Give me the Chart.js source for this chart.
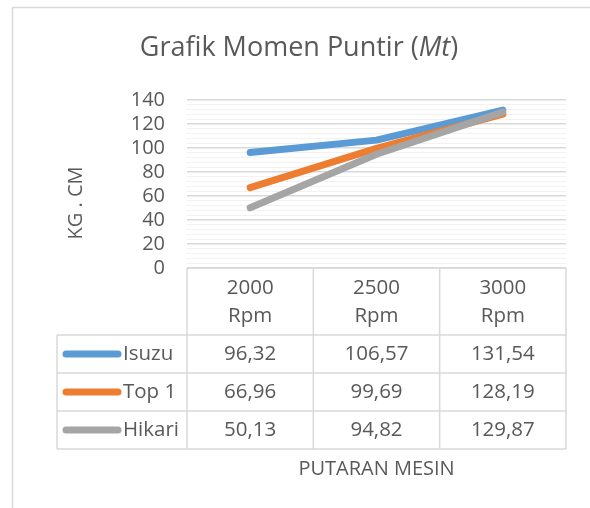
<!DOCTYPE html>
<html>
<head>
<meta charset="utf-8">
<script src="https://cdn.jsdelivr.net/npm/chart.js@4/dist/chart.umd.min.js"></script>
<style>
  body { margin: 0; background: #fff; }
  #wrap { width: 590px; height: 508px; }
</style>
</head>
<body>
<div id="wrap"><canvas id="momenChart" width="590" height="508"></canvas></div>
<script>
// data
const rpm = ["2000", "2500", "3000"];
const rpmUnit = "Rpm";
const seriesNames = ["Isuzu", "Top 1", "Hikari"];
const isuzu = [96.32, 106.57, 131.54];
const top1 = [66.96, 99.69, 128.19];
const hikari = [50.13, 94.82, 129.87];
const yTicks = [0, 20, 40, 60, 80, 100, 120, 140];

const colors = ["#5b9bd5", "#ed7d31", "#a5a5a5"];
const textColor = "#595959";
const fontFam = "'Open Sans', sans-serif";

function fmt(v) {
  return v.toFixed(2).replace(".", ",");
}

// frame, title, axis titles and data table below the plot
const tablePlugin = {
  id: "tablePlugin",
  afterDraw(chart) {
    const c = chart.ctx;
    const area = chart.chartArea;
    const xs = chart.scales.x;
    const all = [isuzu, top1, hikari];

    c.save();
    // outer frame
    c.strokeStyle = "#d9d9d9";
    c.lineWidth = 1.5;
    c.beginPath();
    c.moveTo(12.5, 508);
    c.lineTo(12.5, 7.5);
    c.lineTo(590, 7.5);
    c.stroke();

    c.fillStyle = textColor;
    c.textBaseline = "middle";

    // title
    const tf = "27px " + fontFam;
    const tfi = "italic 27px " + fontFam;
    const t1 = "Grafik Momen Puntir (";
    const t2 = "Mt";
    const t3 = ")";
    c.font = tf;
    const w1 = c.measureText(t1).width;
    const w3 = c.measureText(t3).width;
    c.font = tfi;
    const w2 = c.measureText(t2).width;
    const tx = 299 - (w1 + w2 + w3) / 2;
    c.textAlign = "left";
    c.font = tf;
    c.fillText(t1, tx, 48);
    c.font = tfi;
    c.fillText(t2, tx + w1, 48);
    c.font = tf;
    c.fillText(t3, tx + w1 + w2, 48);

    // y axis title
    c.save();
    c.translate(76, 203);
    c.rotate(-Math.PI / 2);
    c.textAlign = "center";
    c.font = "20px " + fontFam;
    c.fillText("KG . CM", 0, 0);
    c.restore();

    // table grid
    const top = area.bottom;
    const headH = 67;
    const rowH = 38;
    const legLeft = 57;
    const bottom = top + headH + rowH * all.length;
    const colW = (area.right - area.left) / rpm.length;
    c.strokeStyle = "#d9d9d9";
    c.lineWidth = 1.5;
    c.beginPath();
    for (let i = 0; i <= rpm.length; i++) {
      const x = area.left + colW * i;
      c.moveTo(x, top);
      c.lineTo(x, bottom);
    }
    c.moveTo(legLeft, top + headH);
    c.lineTo(legLeft, bottom);
    c.moveTo(area.left, top);
    c.lineTo(area.right, top);
    for (let r = 0; r <= all.length; r++) {
      const y = top + headH + rowH * r;
      c.moveTo(legLeft, y);
      c.lineTo(area.right, y);
    }
    c.stroke();

    // header
    c.textAlign = "center";
    c.font = "20.5px " + fontFam;
    rpm.forEach((r, i) => {
      const x = xs.getPixelForValue(i);
      c.fillText(r, x, top + 20);
      c.fillText(rpmUnit, x, top + 48);
    });

    // rows
    all.forEach((data, r) => {
      const y = top + headH + rowH * r + rowH / 2;
      c.strokeStyle = colors[r];
      c.lineWidth = 7;
      c.lineCap = "round";
      c.beginPath();
      c.moveTo(66, y);
      c.lineTo(118, y);
      c.stroke();
      c.textAlign = "left";
      c.fillText(seriesNames[r], 123, y);
      c.textAlign = "center";
      data.forEach((v, i) => {
        c.fillText(fmt(v), xs.getPixelForValue(i), y);
      });
    });

    // x axis title
    c.font = "20px " + fontFam;
    c.fillText("PUTARAN MESIN", (area.left + area.right) / 2, 469);
    c.restore();
  }
};

const ctx = document.getElementById("momenChart").getContext("2d");
new Chart(ctx, {
  type: "line",
  data: {
    labels: rpm,
    datasets: [
      { label: seriesNames[0], data: isuzu, borderColor: colors[0], order: 2 },
      { label: seriesNames[1], data: top1, borderColor: colors[1], order: 1 },
      { label: seriesNames[2], data: hikari, borderColor: colors[2], order: 0 },
    ],
  },
  options: {
    responsive: false,
    animation: false,
    layout: { padding: { top: 100, right: 24, bottom: 240, left: 0 } },
    elements: {
      line: { borderWidth: 7, borderCapStyle: "round", borderJoinStyle: "round", tension: 0 },
      point: { radius: 0 },
    },
    plugins: {
      legend: { display: false },
      title: { display: false },
      tooltip: { enabled: false },
    },
    scales: {
      x: { display: false, offset: true },
      y: {
        min: yTicks[0],
        max: yTicks[yTicks.length - 1],
        afterFit: (s) => { s.width = 187; },
        border: { display: false },
        grid: {
          drawTicks: false,
          color: (g) => (g.tick.value % 20 === 0 ? "#d9d9d9" : "#f2f2f2"),
          lineWidth: (g) => (g.tick.value % 20 === 0 ? 1.5 : 1),
        },
        ticks: {
          stepSize: 4,
          autoSkip: false,
          padding: 22,
          color: textColor,
          font: { size: 20, family: fontFam },
          callback: (v) => (yTicks.includes(v) ? v : ""),
        },
      },
    },
  },
  plugins: [tablePlugin],
});
</script>
</body>
</html>
